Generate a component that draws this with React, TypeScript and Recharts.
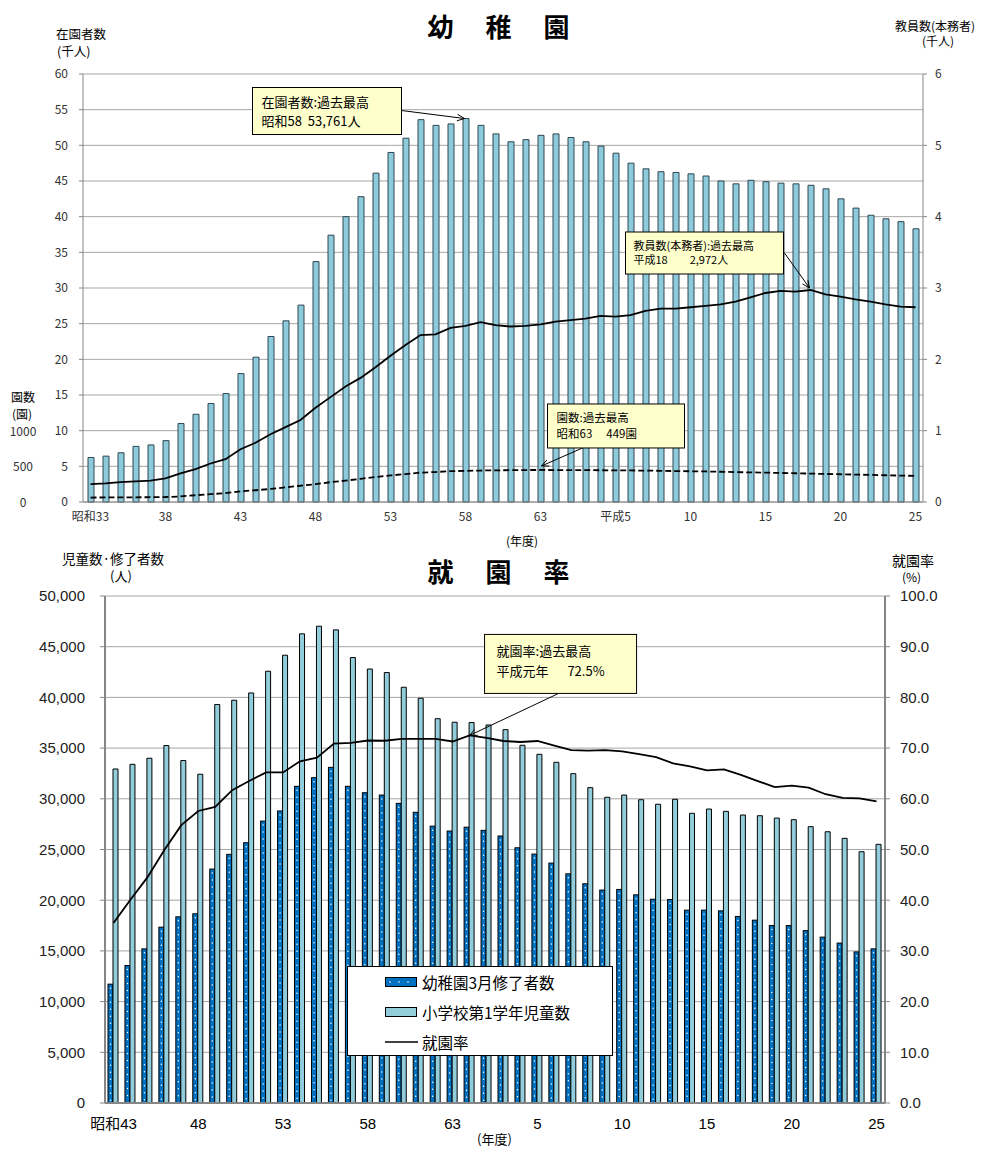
// 幼稚園 — 在園者数・教員数・園数の推移 / 就園率の推移
import React from 'react'
import {
  ComposedChart, Bar, Line, XAxis, YAxis, CartesianGrid, ReferenceDot, Legend,
} from 'recharts'

const FONT = '"Noto Sans CJK JP", "Noto Sans", sans-serif'
const NUM_FONT = '"Liberation Sans", "Noto Sans CJK JP", sans-serif'

// ---- 上段: 幼稚園 (昭和33〜平成25) ----
const topYears = [
  '昭和33', '昭和34', '昭和35', '昭和36', '昭和37', '昭和38', '昭和39', '昭和40', '昭和41', '昭和42',
  '昭和43', '昭和44', '昭和45', '昭和46', '昭和47', '昭和48', '昭和49', '昭和50', '昭和51', '昭和52',
  '昭和53', '昭和54', '昭和55', '昭和56', '昭和57', '昭和58', '昭和59', '昭和60', '昭和61', '昭和62',
  '昭和63', '平成元', '平成2', '平成3', '平成4', '平成5', '平成6', '平成7', '平成8', '平成9',
  '平成10', '平成11', '平成12', '平成13', '平成14', '平成15', '平成16', '平成17', '平成18', '平成19',
  '平成20', '平成21', '平成22', '平成23', '平成24', '平成25',
]
// 在園者数 (千人)
const enrolled = [
  6.24, 6.43, 6.9, 7.8, 8.0, 8.6, 11.0, 12.3, 13.8, 15.2,
  18.0, 20.3, 23.2, 25.4, 27.6, 33.7, 37.4, 40.0, 42.8, 46.1,
  49.0, 51.0, 53.6, 52.8, 53.0, 53.761, 52.8, 51.6, 50.5, 50.8,
  51.4, 51.6, 51.1, 50.5, 49.9, 48.9, 47.5, 46.7, 46.3, 46.2,
  46.0, 45.7, 45.0, 44.6, 45.1, 44.9, 44.7, 44.6, 44.4, 43.9,
  42.5, 41.2, 40.2, 39.7, 39.3, 38.3,
]
// 教員数(本務者) (千人)
const teachers = [
  0.25, 0.26, 0.28, 0.29, 0.30, 0.33, 0.40, 0.46, 0.54, 0.60,
  0.74, 0.83, 0.95, 1.05, 1.15, 1.32, 1.47, 1.62, 1.74, 1.89,
  2.05, 2.20, 2.34, 2.35, 2.44, 2.47, 2.52, 2.48, 2.46, 2.47,
  2.49, 2.53, 2.55, 2.57, 2.61, 2.60, 2.62, 2.68, 2.71, 2.71,
  2.73, 2.75, 2.77, 2.81, 2.87, 2.93, 2.96, 2.95, 2.972, 2.91,
  2.88, 2.84, 2.81, 2.77, 2.74, 2.73,
]
// 園数 (園)
const kindergartens = [
  62, 64, 65, 66, 67, 70, 78, 95, 110, 125,
  150, 165, 183, 205, 228, 250, 278, 300, 325, 350,
  372, 392, 412, 420, 432, 437, 441, 444, 446, 448,
  449, 448, 447, 446, 445, 444, 442, 440, 437, 434,
  431, 428, 424, 419, 415, 412, 407, 403, 398, 393,
  389, 384, 380, 375, 370, 366,
]
const topTickYears = ['昭和33', '昭和38', '昭和43', '昭和48', '昭和53', '昭和58', '昭和63', '平成5', '平成10', '平成15', '平成20', '平成25']
const topTickLabels = ['昭和33', '38', '43', '48', '53', '58', '63', '平成5', '10', '15', '20', '25']
const mainTicks = [0, 5, 10, 15, 20, 25, 30, 35, 40, 45, 50, 55, 60]
const enTicks = [0, 500, 1000]
const teachTicks = [0, 1, 2, 3, 4, 5, 6]

// ---- 下段: 就園率 (昭和43〜平成25) ----
const bottomYears = [
  '昭和43', '昭和44', '昭和45', '昭和46', '昭和47', '昭和48', '昭和49', '昭和50', '昭和51', '昭和52',
  '昭和53', '昭和54', '昭和55', '昭和56', '昭和57', '昭和58', '昭和59', '昭和60', '昭和61', '昭和62',
  '昭和63', '平成元', '平成2', '平成3', '平成4', '平成5', '平成6', '平成7', '平成8', '平成9',
  '平成10', '平成11', '平成12', '平成13', '平成14', '平成15', '平成16', '平成17', '平成18', '平成19',
  '平成20', '平成21', '平成22', '平成23', '平成24', '平成25',
]
// 幼稚園3月修了者数 (人)
const graduates = [
  11720, 13560, 15200, 17340, 18360, 18660, 23070, 24520, 25670, 27800,
  28800, 31230, 32080, 33100, 31230, 30600, 30370, 29550, 28670, 27300,
  26820, 27200, 26890, 26330, 25170, 24550, 23660, 22600, 21620, 21000,
  21060, 20530, 20100, 20070, 19020, 19020, 18950, 18400, 18030, 17500,
  17500, 17000, 16360, 15770, 14900, 15200,
]
// 小学校第1学年児童数 (人)
const firstGraders = [
  32940, 33400, 34000, 35250, 33770, 32420, 39300, 39720, 40440, 42580,
  44160, 46270, 47020, 46660, 43930, 42800, 42450, 41000, 39920, 37900,
  37550, 37520, 37280, 36820, 35280, 34390, 33600, 32480, 31100, 30150,
  30370, 29910, 29460, 29950, 28570, 28990, 28760, 28400, 28330, 28100,
  27940, 27250, 26750, 26100, 24780, 25510,
]
// 就園率 (%)
const rate = [
  35.5, 40.1, 44.5, 49.9, 54.8, 57.6, 58.4, 61.7, 63.5, 65.2,
  65.2, 67.4, 68.1, 70.9, 71.05, 71.5, 71.45, 71.8, 71.8, 71.8,
  71.3, 72.5, 72.0, 71.4, 71.2, 71.4, 70.5, 69.6, 69.5, 69.6,
  69.35, 68.8, 68.2, 67.0, 66.4, 65.6, 65.8, 64.7, 63.5, 62.3,
  62.6, 62.2, 60.9, 60.2, 60.1, 59.5,
]
const bottomTickYears = ['昭和43', '昭和48', '昭和53', '昭和58', '昭和63', '平成5', '平成10', '平成15', '平成20', '平成25']
const bottomTickLabels = ['昭和43', '48', '53', '58', '63', '5', '10', '15', '20', '25']
const countTicks = [0, 5000, 10000, 15000, 20000, 25000, 30000, 35000, 40000, 45000, 50000]
const rateTicks = [0, 10, 20, 30, 40, 50, 60, 70, 80, 90, 100]
const legendOrder = ['graduates', 'firstGraders', 'rate']

const topData = topYears.map((year, i) => ({
  year, enrolled: enrolled[i], teachers: teachers[i], kindergartens: kindergartens[i],
}))
const bottomData = bottomYears.map((year, i) => ({
  year, graduates: graduates[i], firstGraders: firstGraders[i], rate: rate[i],
}))

const AXIS = '#868686'
const GRID = '#a6a6a6'
const TEXT = '#333'

interface CalloutSpec {
  lines: string[]
  box: [number, number, number, number] // dx, dy, w, h relative to the point
  from: [number, number]
  tip: [number, number]
  fontSize: number
  padX: number
  baselines: number[]
}

function makeCallout(spec: CalloutSpec) {
  return (props: any) => {
    const { cx, cy } = props
    if (cx == null || cy == null) return <g />
    const bx = cx + spec.box[0]
    const by = cy + spec.box[1]
    const sx = cx + spec.from[0]
    const sy = cy + spec.from[1]
    const tx = cx + spec.tip[0]
    const ty = cy + spec.tip[1]
    const ang = Math.atan2(ty - sy, tx - sx)
    const head = 8
    const spread = 0.42
    const h1x = tx - head * Math.cos(ang - spread)
    const h1y = ty - head * Math.sin(ang - spread)
    const h2x = tx - head * Math.cos(ang + spread)
    const h2y = ty - head * Math.sin(ang + spread)
    return (
      <g>
        <line x1={sx} y1={sy} x2={tx} y2={ty} stroke="#000" strokeWidth={1} />
        <polyline points={`${h1x},${h1y} ${tx},${ty} ${h2x},${h2y}`} fill="none" stroke="#000" strokeWidth={1} />
        <rect x={bx} y={by} width={spec.box[2]} height={spec.box[3]} fill="#ffffcc" stroke="#000" strokeWidth={1} />
        {spec.lines.map((t, i) => (
          <text key={i} x={bx + spec.padX} y={by + spec.baselines[i]} fontSize={spec.fontSize}
            fontFamily={FONT} fill="#000" style={{ whiteSpace: 'pre' }}>{t}</text>
        ))}
      </g>
    )
  }
}

const enrolledCallout = makeCallout({
  lines: ['在園者数:過去最高', '昭和58  53,761人'],
  box: [-213, -31, 149, 47], from: [-64, -8], tip: [-1, 0],
  fontSize: 13, padX: 9, baselines: [19, 38],
})
const teacherCallout = makeCallout({
  lines: ['教員数(本務者):過去最高', '平成18\u3000\u30002,972人'],
  box: [-185, -58, 158, 42], from: [-26, -37], tip: [-1, -2],
  fontSize: 11, padX: 8, baselines: [18, 32],
})
const enCallout = makeCallout({
  lines: ['園数:過去最高', '昭和63\u3000 449園'],
  box: [7, -66, 137, 44], from: [42, -22], tip: [1, -4],
  fontSize: 11.5, padX: 9, baselines: [18, 34],
})
const rateCallout = makeCallout({
  lines: ['就園率:過去最高', '平成元年\u3000  72.5%'],
  box: [15, -101, 152, 59], from: [89, -42], tip: [0, 0],
  fontSize: 13, padX: 12, baselines: [22, 42],
})

function EnTick({ y, payload }: any) {
  return (
    <text x={23} y={y} dy={5} textAnchor="middle" fontSize={12} fill={TEXT} fontFamily={FONT}>
      {payload.value}
    </text>
  )
}

function DottedBar(props: any) {
  const { x, y, width, height, fill } = props
  if (!height || height <= 0) return <g />
  const dots = []
  for (let yy = y + 4; yy < y + height - 2; yy += 7) {
    dots.push(<circle key={yy} cx={x + width / 2} cy={yy} r={0.75} fill="#fff" />)
  }
  return (
    <g>
      <rect x={x} y={y} width={width} height={height} fill={fill} stroke="#000" strokeWidth={1} />
      {dots}
    </g>
  )
}

function LegendBox({ payload }: any) {
  const items = ((payload || []) as { value: string; dataKey: string }[])
    .slice()
    .sort((a, b) => legendOrder.indexOf(a.dataKey) - legendOrder.indexOf(b.dataKey))
  return (
    <div style={{
      width: 266, height: 90, boxSizing: 'border-box', border: '1px solid #000', background: '#fff',
      fontFamily: FONT, fontSize: 15.5, color: '#000', paddingTop: 0,
    }}>
      {items.map((it) => (
        <div key={it.value} style={{ display: 'flex', alignItems: 'center', height: 30, paddingLeft: 37 }}>
          <svg width={33} height={12} style={{ marginRight: 4 }}>
            {it.dataKey === 'rate' ? (
              <line x1={0} y1={6} x2={33} y2={6} stroke="#000" strokeWidth={1.5} />
            ) : it.dataKey === 'graduates' ? (
              <g>
                <rect x={0.5} y={1.5} width={31} height={9} fill="#0070c0" stroke="#000" />
                {[5, 14, 23].map((cx) => <circle key={cx} cx={cx} cy={6} r={0.8} fill="#fff" />)}
              </g>
            ) : (
              <rect x={0.5} y={1.5} width={31} height={9} fill="#92cddc" stroke="#000" />
            )}
          </svg>
          <span>{it.value}</span>
        </div>
      ))}
    </div>
  )
}

const label = (left: number, top: number, size: number, text: string, extra: React.CSSProperties = {}) => (
  <div style={{
    position: 'absolute', left, top, fontSize: size, lineHeight: 1, whiteSpace: 'pre',
    color: '#000', fontFamily: FONT, ...extra,
  }}>{text}</div>
)

export default function App() {
  return (
    <div style={{ position: 'absolute', left: 0, top: 0, width: 986, height: 1151, background: '#fff', overflow: 'hidden' }}>
      {/* 幼稚園 */}
      <div style={{ position: 'absolute', left: 0, top: 0 }}>
        <ComposedChart width={986} height={560} data={topData}
          margin={{ top: 74, right: 33, left: 0, bottom: 28 }}>
          <CartesianGrid yAxisId="a_main" vertical={false} stroke={GRID} />
          <XAxis dataKey="year" ticks={topTickYears} interval={0}
            tickFormatter={(v: string) => topTickLabels[topTickYears.indexOf(v)] ?? ''}
            tickLine={false} tickSize={0} tickMargin={10} height={30}
            axisLine={{ stroke: AXIS }}
            tick={{ fontSize: 12, fill: TEXT, fontFamily: FONT }} />
          <YAxis yAxisId="a_main" domain={[0, 60]} ticks={mainTicks} width={38}
            tickSize={4} tickMargin={11} axisLine={{ stroke: AXIS }} tickLine={{ stroke: AXIS }}
            tick={{ fontSize: 12, fill: TEXT, fontFamily: FONT }} />
          <YAxis yAxisId="b_en" domain={[0, 6000]} ticks={enTicks} width={45}
            axisLine={false} tickLine={false} tick={<EnTick />} />
          <YAxis yAxisId="c_teach" orientation="right" domain={[0, 6]} ticks={teachTicks} width={30}
            tickSize={4} tickMargin={8} axisLine={{ stroke: AXIS }} tickLine={{ stroke: AXIS }}
            tick={{ fontSize: 12, fill: TEXT, fontFamily: FONT }} />
          <Bar yAxisId="a_main" dataKey="enrolled" barSize={6} fill="#8dcadb" stroke="#2e4650" strokeWidth={1}
            isAnimationActive={false} />
          <Line yAxisId="c_teach" dataKey="teachers" type="linear" stroke="#000" strokeWidth={1.8}
            dot={false} activeDot={false} isAnimationActive={false} />
          <Line yAxisId="b_en" dataKey="kindergartens" type="linear" stroke="#000" strokeWidth={1.8}
            strokeDasharray="6 3" dot={false} activeDot={false} isAnimationActive={false} />
          <ReferenceDot yAxisId="a_main" x="昭和58" y={53.761} r={0} shape={enrolledCallout} />
          <ReferenceDot yAxisId="c_teach" x="平成18" y={2.972} r={0} shape={teacherCallout} />
          <ReferenceDot yAxisId="b_en" x="昭和63" y={449} r={0} shape={enCallout} />
        </ComposedChart>
      </div>

      {/* 就園率 */}
      <div style={{ position: 'absolute', left: 0, top: 545 }}>
        <ComposedChart width={986} height={606} data={bottomData} barGap={0}
          margin={{ top: 51, right: 41, left: 0, bottom: 18 }}>
          <CartesianGrid yAxisId="cnt" vertical={false} stroke={GRID} />
          <XAxis dataKey="year" ticks={bottomTickYears} interval={0}
            tickFormatter={(v: string) => bottomTickLabels[bottomTickYears.indexOf(v)] ?? ''}
            tickLine={false} tickSize={0} tickMargin={15} height={30}
            axisLine={{ stroke: AXIS, strokeWidth: 2 }}
            tick={{ fontSize: 15, fill: '#000', fontFamily: NUM_FONT }} />
          <YAxis yAxisId="cnt" domain={[0, 50000]} ticks={countTicks} width={105}
            tickSize={5} tickMargin={15} axisLine={{ stroke: AXIS, strokeWidth: 2 }} tickLine={{ stroke: AXIS }}
            tickFormatter={(v: number) => v.toLocaleString('en-US')}
            tick={{ fontSize: 15, fill: '#222', fontFamily: NUM_FONT }} />
          <YAxis yAxisId="rate" orientation="right" domain={[0, 100]} ticks={rateTicks} width={60}
            tickSize={5} tickMargin={10} axisLine={{ stroke: AXIS, strokeWidth: 2 }} tickLine={{ stroke: AXIS }}
            tickFormatter={(v: number) => v.toFixed(1)}
            tick={{ fontSize: 15, fill: '#222', fontFamily: NUM_FONT }} />
          <Bar yAxisId="cnt" dataKey="graduates" name="幼稚園3月修了者数" barSize={5} fill="#0070c0"
            shape={<DottedBar />} isAnimationActive={false} />
          <Bar yAxisId="cnt" dataKey="firstGraders" name="小学校第1学年児童数" barSize={5} fill="#92cddc"
            stroke="#000" strokeWidth={1} isAnimationActive={false} />
          <Line yAxisId="rate" dataKey="rate" name="就園率" type="linear" stroke="#000" strokeWidth={1.8}
            dot={false} activeDot={false} isAnimationActive={false} />
          <Legend layout="vertical" align="center" verticalAlign="middle" content={<LegendBox />}
            wrapperStyle={{ position: 'absolute', left: 347, top: 421, bottom: 'auto', width: 266, height: 90 }} />
          <ReferenceDot yAxisId="rate" x="平成元" y={72.5} r={0} shape={rateCallout} />
        </ComposedChart>
      </div>

      {label(0, 13, 26, '幼\u3000稚\u3000園', { width: 1000, textAlign: 'center', fontWeight: 700, letterSpacing: 3 })}
      {label(56, 28, 12.5, '在園者数')}
      {label(57, 45, 12.5, '(千人)')}
      {label(895, 20, 12, '教員数(本務者)')}
      {label(922, 35, 12, '(千人)')}
      {label(11, 391, 12, '園数')}
      {label(12, 408, 12, '(園)')}
      {label(506, 535, 12, '(年度)')}

      {label(0, 558, 26, '就\u3000園\u3000率', { width: 1000, textAlign: 'center', fontWeight: 700, letterSpacing: 3 })}
      {label(62, 552, 13.5, '児童数·修了者数')}
      {label(110, 569, 13, '(人)')}
      {label(892, 553, 14, '就園率')}
      {label(902, 571, 12, '(%)')}
      {label(477, 1132, 13, '(年度)')}
    </div>
  )
}
